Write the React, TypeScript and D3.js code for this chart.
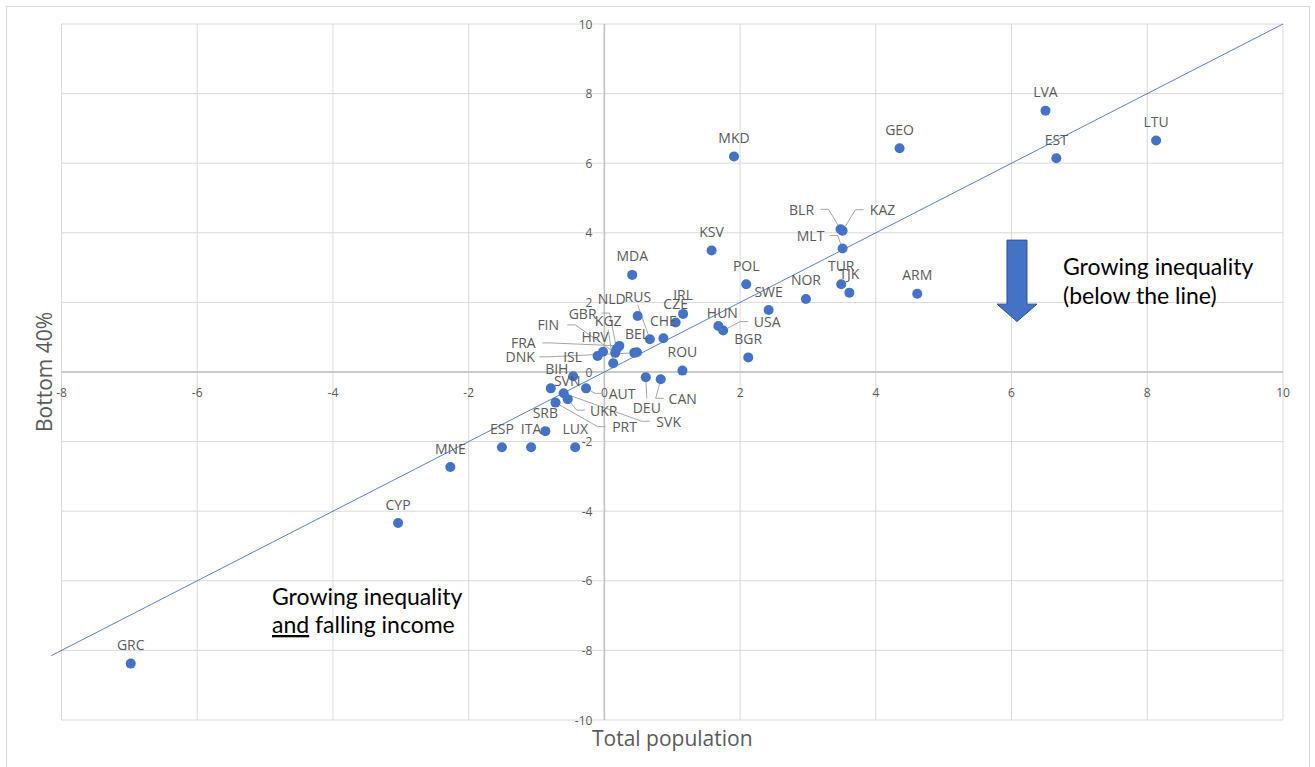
import { useEffect, useRef } from 'react';
import * as d3 from 'd3';

// Change in income, total population vs bottom 40%
const countries = [
  'GRC', 'CYP', 'MNE', 'ESP', 'ITA', 'LUX', 'SRB', 'BIH', 'SVN', 'AUT',
  'DEU', 'CAN', 'UKR', 'SVK', 'PRT', 'ROU', 'KGZ', 'ISL', 'DNK', 'FRA',
  'HRV', 'FIN', 'GBR', 'NLD', 'RUS', 'BEL', 'CHE', 'CZE', 'IRL', 'MDA',
  'KSV', 'POL', 'SWE', 'HUN', 'USA', 'BGR', 'NOR', 'TUR', 'TJK', 'ARM',
  'BLR', 'KAZ', 'MLT', 'MKD', 'GEO', 'LVA', 'EST', 'LTU',
];
const totalPopulation = [
  -6.98, -3.04, -2.27, -1.51, -1.08, -0.43, -0.87, -0.79, -0.46, -0.27,
  0.61, 0.83, -0.54, -0.6, -0.72, 1.15, 0.13, -0.1, 0.44, 0.22,
  -0.02, 0.16, 0.18, 0.49, 0.67, 0.48, 0.87, 1.05, 1.16, 0.41,
  1.58, 2.09, 2.42, 1.68, 1.75, 2.12, 2.97, 3.49, 3.61, 4.61,
  3.48, 3.51, 3.51, 1.91, 4.35, 6.5, 6.66, 8.13,
];
const bottom40 = [
  -8.38, -4.34, -2.73, -2.16, -2.16, -2.16, -1.7, -0.47, -0.12, -0.47,
  -0.15, -0.21, -0.78, -0.61, -0.88, 0.04, 0.25, 0.46, 0.55, 0.75,
  0.58, 0.55, 0.66, 1.61, 0.94, 0.57, 0.97, 1.42, 1.67, 2.79,
  3.49, 2.52, 1.78, 1.32, 1.19, 0.42, 2.1, 2.52, 2.28, 2.25,
  4.1, 4.06, 3.55, 6.19, 6.43, 7.51, 6.14, 6.65,
];
const xTicks = [-8, -6, -4, -2, 0, 2, 4, 6, 8, 10];
const yTicks = [-10, -8, -6, -4, -2, 0, 2, 4, 6, 8, 10];
const equalityLine = [-8.15, 10];

// label placement (pixels from the dot), true = leader line
const labelMoves: Record<string, [number, number, boolean]> = {
  BIH: [6, -20, false],
  SVN: [-6, 4, false],
  AUT: [36, 5, true],
  DEU: [1, 30, true],
  CAN: [22, 19, true],
  UKR: [36, 11, true],
  SVK: [105, 28, true],
  PRT: [69, 24, true],
  KGZ: [-5, -43, true],
  ISL: [-25, 1, false],
  DNK: [-114, 4, true],
  FRA: [-96, -3, true],
  HRV: [-8, -15, false],
  FIN: [-67, -28, true],
  GBR: [-34, -36, true],
  NLD: [-26, -17, false],
  RUS: [-12, -43, true],
  CHE: [0, -18, false],
  HUN: [4, -14, false],
  USA: [44, -9, true],
  BLR: [-39, -20, true],
  KAZ: [40, -21, true],
  MLT: [-32, -13, true],
};

const svgWidth = 1315;
const svgHeight = 767;

function App() {
  const ref = useRef(null);

  useEffect(() => {
    const svg = d3.select(ref.current);
    svg.selectAll('*').remove();

    const x = d3.scaleLinear().domain([-8, 10]).range([61.5, 1283]);
    const y = d3.scaleLinear().domain([-10, 10]).range([720, 24]);

    const labelFont = '"Open Sans", "DejaVu Sans", sans-serif';
    const grey = '#595959';

    // Chart border
    svg
      .append('rect')
      .attr('x', 6.5)
      .attr('y', 6.5)
      .attr('width', 1303)
      .attr('height', 780)
      .attr('fill', '#fff')
      .attr('stroke', '#d9d9d9');

    // Grid
    const grid = svg.append('g').attr('stroke', '#d9d9d9').attr('stroke-width', 1);
    grid
      .selectAll('line.v')
      .data(xTicks)
      .join('line')
      .attr('x1', (d) => x(d))
      .attr('x2', (d) => x(d))
      .attr('y1', y(10))
      .attr('y2', y(-10));
    grid
      .selectAll('line.h')
      .data(yTicks)
      .join('line')
      .attr('x1', x(-8))
      .attr('x2', x(10))
      .attr('y1', (d) => y(d))
      .attr('y2', (d) => y(d));

    // Axis lines through zero
    svg
      .append('line')
      .attr('x1', x(0))
      .attr('x2', x(0))
      .attr('y1', y(10))
      .attr('y2', y(-10))
      .attr('stroke', '#bfbfbf')
      .attr('stroke-width', 1.5);
    svg
      .append('line')
      .attr('x1', x(-8))
      .attr('x2', x(10))
      .attr('y1', y(0))
      .attr('y2', y(0))
      .attr('stroke', '#bfbfbf')
      .attr('stroke-width', 1.5);

    // Tick labels
    svg
      .append('g')
      .selectAll('text')
      .data(xTicks)
      .join('text')
      .attr('x', (d) => x(d))
      .attr('y', y(0) + 20)
      .attr('text-anchor', 'middle')
      .attr('dominant-baseline', 'central')
      .attr('font-family', labelFont)
      .attr('font-size', 12)
      .attr('fill', grey)
      .text((d) => d);
    svg
      .append('g')
      .selectAll('text')
      .data(yTicks)
      .join('text')
      .attr('x', x(0) - 12)
      .attr('y', (d) => y(d))
      .attr('text-anchor', 'end')
      .attr('dominant-baseline', 'central')
      .attr('font-family', labelFont)
      .attr('font-size', 12)
      .attr('fill', grey)
      .text((d) => d);

    // Axis titles
    svg
      .append('text')
      .attr('x', (x(-8) + x(10)) / 2)
      .attr('y', 746)
      .attr('text-anchor', 'middle')
      .attr('font-family', labelFont)
      .attr('font-size', 21)
      .attr('fill', grey)
      .text('Total population');
    svg
      .append('text')
      .attr('transform', `translate(52, ${y(0)}) rotate(-90)`)
      .attr('text-anchor', 'middle')
      .attr('font-family', labelFont)
      .attr('font-size', 21)
      .attr('fill', grey)
      .text('Bottom 40%');

    // y = x line
    svg
      .append('line')
      .attr('x1', x(equalityLine[0]))
      .attr('y1', y(equalityLine[0]))
      .attr('x2', x(equalityLine[1]))
      .attr('y2', y(equalityLine[1]))
      .attr('stroke', '#4472c4')
      .attr('stroke-width', 0.9);

    const points = countries.map((name, i) => ({
      name,
      px: x(totalPopulation[i]),
      py: y(bottom40[i]),
    }));
    const r = 5;

    // Leader lines
    const leaders = points.filter((p) => labelMoves[p.name] && labelMoves[p.name][2]);
    svg
      .append('g')
      .attr('fill', 'none')
      .attr('stroke', '#a6a6a6')
      .attr('stroke-width', 1)
      .selectAll('path')
      .data(leaders)
      .join('path')
      .attr('d', (p) => {
        const [dx, dy] = labelMoves[p.name];
        const lx = p.px + dx;
        const ly = p.py + dy;
        const hw = 17;
        const pts: [number, number][] = [];
        if (Math.abs(dx) > hw + 4) {
          const side = -Math.sign(dx);
          pts.push([lx + side * (hw + 2), ly], [lx + side * (hw + 10), ly]);
        } else {
          pts.push([lx, ly - Math.sign(dy) * 9]);
        }
        const last = pts[pts.length - 1];
        const ang = Math.atan2(p.py - last[1], p.px - last[0]);
        pts.push([p.px - Math.cos(ang) * r, p.py - Math.sin(ang) * r]);
        return d3.line()(pts);
      });

    // Dots
    svg
      .append('g')
      .attr('fill', '#4472c4')
      .selectAll('circle')
      .data(points)
      .join('circle')
      .attr('cx', (p) => p.px)
      .attr('cy', (p) => p.py)
      .attr('r', r);

    // Data labels
    svg
      .append('g')
      .selectAll('text')
      .data(points)
      .join('text')
      .attr('x', (p) => p.px + (labelMoves[p.name] ? labelMoves[p.name][0] : 0))
      .attr('y', (p) => p.py + (labelMoves[p.name] ? labelMoves[p.name][1] : -19))
      .attr('text-anchor', 'middle')
      .attr('dominant-baseline', 'central')
      .attr('font-family', labelFont)
      .attr('font-size', 14)
      .attr('fill', grey)
      .text((p) => p.name);

    // Arrow (below the line)
    const ax = x(6.08);
    const arrow = [
      [ax - 10, y(3.79)],
      [ax + 10, y(3.79)],
      [ax + 10, y(1.95)],
      [ax + 20, y(1.95)],
      [ax, y(1.45)],
      [ax - 20, y(1.95)],
      [ax - 10, y(1.95)],
    ] as [number, number][];
    svg
      .append('path')
      .attr('d', d3.line()(arrow) + 'Z')
      .attr('fill', '#4472c4')
      .attr('stroke', '#2f528f')
      .attr('stroke-width', 1);

    // Annotations
    const noteFont = 'Lato, "Open Sans", sans-serif';
    const right = svg
      .append('text')
      .attr('font-family', noteFont)
      .attr('font-size', 23)
      .attr('fill', '#000');
    right.append('tspan').attr('x', 1063).attr('y', 275).text('Growing inequality');
    right.append('tspan').attr('x', 1063).attr('y', 304).text('(below the line)');

    const left = svg
      .append('text')
      .attr('font-family', noteFont)
      .attr('font-size', 23)
      .attr('fill', '#000');
    left.append('tspan').attr('x', 272).attr('y', 605).text('Growing inequality');
    const l2 = left.append('tspan').attr('x', 272).attr('y', 633);
    l2.append('tspan').attr('text-decoration', 'underline').text('and');
    l2.append('tspan').text(' falling income');
  }, []);

  return (
    <div style={{ position: 'absolute', left: 0, top: 0 }}>
      <svg ref={ref} width={svgWidth} height={svgHeight}></svg>
    </div>
  );
}

export default App;
